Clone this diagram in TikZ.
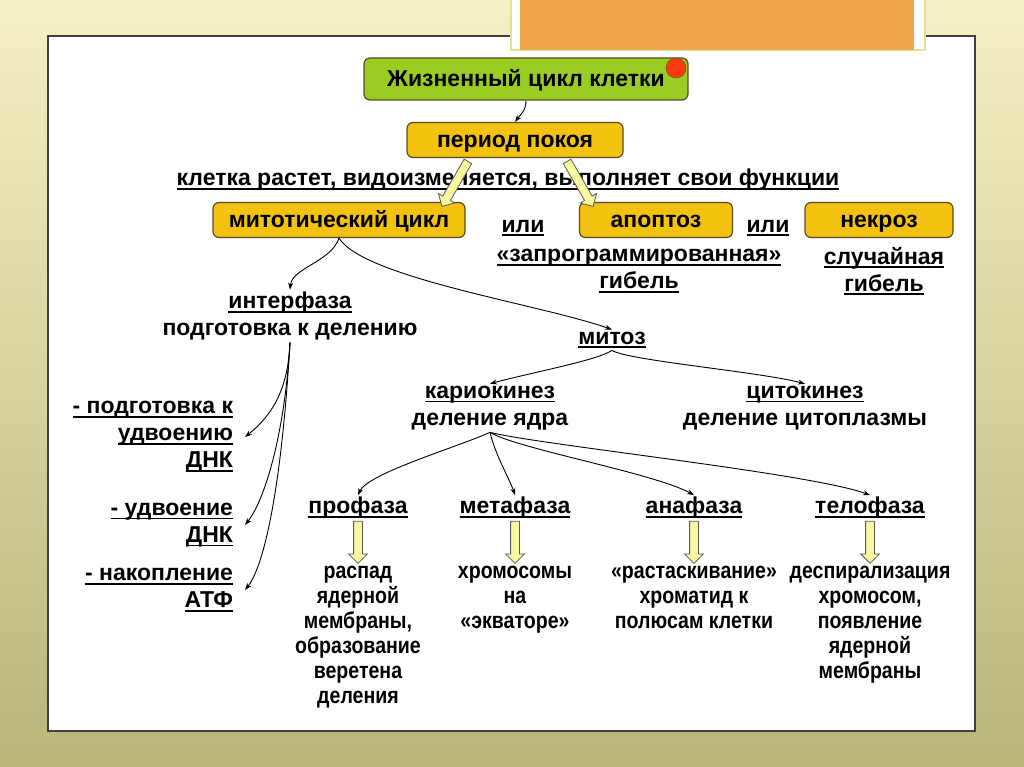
\documentclass[tikz,border=0pt]{standalone}
\usepackage{fontspec}
\setmainfont{Liberation Sans}
\newfontfamily\narrowfont{Liberation Sans}[FakeStretch=0.85]
\usepackage{tikz}
\usetikzlibrary{arrows.meta,positioning,shapes.arrows,calc}
\definecolor{slidetop}{HTML}{F5F1C6}
\definecolor{slidebottom}{HTML}{BAB579}
\definecolor{tabedge}{HTML}{E4E09C}
\definecolor{titleorange}{HTML}{F0A54B}
\definecolor{lifegreen}{HTML}{9BCC22}
\definecolor{stageyellow}{HTML}{F3C20F}
\definecolor{stageborder}{HTML}{5B4A22}
\definecolor{dotred}{HTML}{FF3A10}
\definecolor{hollowfill}{HTML}{F8F8A0}
\newcommand{\undl}[1]{\setbox0\hbox{#1}\rlap{\rule[-4pt]{\wd0}{1.8pt}}\box0}

\begin{document}
\begin{tikzpicture}[x=1pt, y=-1pt,
    basefont/.style={font=\bfseries\fontsize{23}{27}\selectfont},
    stage/.style={rectangle, rounded corners=6pt, draw=stageborder, line width=1.2pt, fill=stageyellow, minimum height=35pt, text height=19pt, text depth=4pt, inner ysep=0pt, basefont},
    lifebox/.style={stage, fill=lifegreen, minimum width=324pt, minimum height=42pt},
    txt/.style={basefont, align=center, inner sep=2pt},
    listitem/.style={txt, align=right, anchor=east, outer xsep=10pt},
    detail/.style={font=\narrowfont\bfseries\fontsize{23}{25}\selectfont, align=center, inner sep=1pt},
    hollow/.style={single arrow, draw=gray!70!black, fill=hollowfill, line width=0.8pt, inner sep=4pt, single arrow head extend=5pt, single arrow head indent=0pt, minimum height=42pt},
    link/.style={-{Stealth[length=7pt,width=5pt]}, line width=0.9pt}
]
  \useasboundingbox (0,0) rectangle (1024,767);
  \shade[top color=slidetop, bottom color=slidebottom] (0,0) rectangle (1024,767);
  \draw[fill=white, draw=black!75, line width=1.4pt] (48,36) rectangle (975,731);
  \draw[fill=white, draw=tabedge, line width=2pt] (511,-2) rectangle (925,50);
  \fill[titleorange] (520,-2) rectangle (914,50);

  \node[lifebox] (life) at (526,79) {Жизненный цикл клетки};
  \node[circle, draw=stageborder, fill=dotred, minimum size=20pt, inner sep=0pt] (dot) at (676,68) {};
  \node[stage, minimum width=216pt] (rest) at (515,140) {период покоя};
  \node[txt] (grow) at (508,180) {\undl{клетка растет, видоизменяется, выполняет свои функции}};

  \node[stage, minimum width=252pt] (mitcycle) at (339,220) {митотический цикл};
  \node[stage, minimum width=153pt] (apopt) at (656,220) {апоптоз};
  \node[stage, minimum width=148pt] (necr) at (879,220) {некроз};
  \node[txt] (or1) at (523,228) {\undl{или}};
  \node[txt] (or2) at (768,228) {\undl{или}};
  \node[txt] (progr) at (639,271) {\undl{«запрограммированная»}\\\undl{гибель}};
  \node[txt] (random) at (884,271) {\undl{случайная}\\\undl{гибель}};

  \node[hollow, rotate=-120, minimum height=52pt] (toleft) at (456,182) {};
  \node[hollow, rotate=-60, minimum height=52pt] (toright) at (579,182) {};

  \node[txt] (interph) at (290,316) {\undl{интерфаза}\\подготовка к делению};
  \node[txt] (mitosis) at (612,340) {\undl{митоз}};

  \node[listitem] (prep) at (245,437) {\undl{- подготовка к}\\\undl{удвоению}\\\undl{ДНК}};
  \node[listitem] (dupl) at (245,525) {\undl{- удвоение}\\\undl{ДНК}};
  \node[listitem] (atp) at (245,590) {\undl{- накопление}\\\undl{АТФ}};

  \node[txt] (karyo) at (490,408) {\undl{кариокинез}\\деление ядра};
  \node[txt] (cyto) at (805,408) {\undl{цитокинез}\\деление цитоплазмы};

  \node[txt] (pro) at (358,508) {\undl{профаза}};
  \node[txt] (meta) at (515,508) {\undl{метафаза}};
  \node[txt] (ana) at (694,508) {\undl{анафаза}};
  \node[txt] (telo) at (870,508) {\undl{телофаза}};

  \node[hollow, shape border rotate=270, below=0pt of pro] (proarr) {};
  \node[hollow, shape border rotate=270, below=0pt of meta] (metaarr) {};
  \node[hollow, shape border rotate=270, below=0pt of ana] (anaarr) {};
  \node[hollow, shape border rotate=270, below=0pt of telo] (teloarr) {};

  \node[detail, below=1pt of proarr] (prodesc) {распад\\ядерной\\мембраны,\\образование\\веретена\\деления};
  \node[detail, below=1pt of metaarr] (metadesc) {хромосомы\\на\\«экваторе»};
  \node[detail, below=1pt of anaarr] (anadesc) {«растаскивание»\\хроматид к\\полюсам клетки};
  \node[detail, below=1pt of teloarr] (telodesc) {деспирализация\\хромосом,\\появление\\ядерной\\мембраны};

  \draw[link] (life.south) .. controls +(0,10) and +(6,-8) .. (rest.north);
  \draw[link] (mitcycle.south) .. controls +(-8,24) and +(2,-22) .. (interph.north);
  \draw[link] (mitcycle.south) .. controls +(25,40) and +(-70,-25) .. (mitosis.north);
  \draw[link] (interph.south) .. controls +(-2,50) and +(25,-20) .. (prep.east);
  \draw[link] (interph.south) .. controls +(-5,90) and +(20,-25) .. (dupl.east);
  \draw[link] (interph.south) .. controls +(-8,140) and +(20,-25) .. (atp.east);
  \draw[link] (mitosis.south) .. controls +(-15,10) and +(45,-12) .. (karyo.north);
  \draw[link] (mitosis.south) .. controls +(15,10) and +(-45,-12) .. (cyto.north);
  \draw[link] (karyo.south) .. controls +(-30,14) and +(10,-22) .. (pro.north);
  \draw[link] (karyo.south) .. controls +(5,22) and +(-5,-15) .. (meta.north);
  \draw[link] (karyo.south) .. controls +(25,16) and +(-40,-22) .. (ana.north);
  \draw[link] (karyo.south) .. controls +(45,12) and +(-60,-22) .. (telo.north);
\end{tikzpicture}
\end{document}
